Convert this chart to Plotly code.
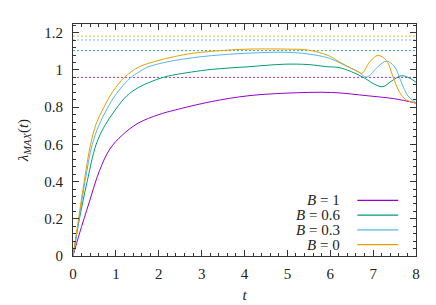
import plotly.graph_objects as go

# ---- data ----
t_b0 = [0, 0.13, 0.26, 0.41, 0.54, 0.72, 0.93, 1.2, 1.52, 1.9, 2.37, 2.8, 3.23, 3.7, 4.08, 4.6, 5.0, 5.48, 5.95, 6.18, 6.41, 6.65, 6.74, 6.92, 7.11, 7.31, 7.46, 7.62, 7.77, 8.0]
y_b0 = [0, 0.20, 0.40, 0.60, 0.71, 0.80, 0.885, 0.96, 1.014, 1.045, 1.072, 1.09, 1.10, 1.108, 1.112, 1.113, 1.112, 1.107, 1.078, 1.048, 1.018, 0.991, 0.982, 1.043, 1.078, 1.051, 0.965, 0.879, 0.839, 0.822]

t_b03 = [0, 0.14, 0.28, 0.45, 0.60, 0.78, 1.02, 1.35, 1.52, 1.74, 2.37, 3.23, 4.08, 4.94, 5.48, 5.95, 6.18, 6.41, 6.65, 6.85, 7.11, 7.31, 7.50, 7.66, 7.81, 8.0]
y_b03 = [0, 0.20, 0.40, 0.60, 0.70, 0.785, 0.875, 0.96, 0.986, 1.015, 1.051, 1.077, 1.09, 1.095, 1.086, 1.065, 1.043, 1.017, 0.991, 0.962, 1.017, 1.048, 1.017, 0.933, 0.861, 0.823]

t_b06 = [0, 0.15, 0.33, 0.54, 0.74, 1.0, 1.25, 1.52, 1.8, 2.1, 2.37, 3.23, 4.08, 4.94, 5.48, 5.95, 6.18, 6.49, 6.80, 7.04, 7.23, 7.42, 7.66, 7.85, 8.0]
y_b06 = [0, 0.20, 0.40, 0.60, 0.70, 0.79, 0.86, 0.905, 0.935, 0.96, 0.974, 1.003, 1.017, 1.031, 1.029, 1.017, 1.014, 0.991, 0.956, 0.922, 0.910, 0.939, 0.969, 0.956, 0.934]

t_b1 = [0, 0.147, 0.38, 0.62, 0.86, 1.15, 1.52, 2.0, 2.37, 3.23, 4.08, 4.94, 6.03, 6.88, 7.5, 8.0]
y_b1 = [0, 0.118, 0.29, 0.46, 0.575, 0.65, 0.714, 0.76, 0.784, 0.830, 0.861, 0.875, 0.879, 0.861, 0.845, 0.822]

asymptotes = {"B0": 1.182, "B03": 1.161, "B06": 1.104, "B1": 0.960}
legend_labels = ["<i>B</i> = 1", "<i>B</i> = 0.6", "<i>B</i> = 0.3", "<i>B</i> = 0"]

x_ticks = [0, 1, 2, 3, 4, 5, 6, 7, 8]
y_ticks = [0, 0.2, 0.4, 0.6, 0.8, 1.0, 1.2]

c_purple = "#9400d3"
c_green = "#009e73"
c_blue = "#56b4e9"
c_orange = "#e69f00"

FONT = "Liberation Serif"

fig = go.Figure()

# dotted asymptote lines
for key, col in [("B0", c_orange), ("B03", c_blue), ("B06", c_green), ("B1", c_purple)]:
    v = asymptotes[key]
    fig.add_trace(go.Scatter(x=[0, 8], y=[v, v], mode="lines",
                             line=dict(color=col, width=1, dash="2px,2px"),
                             opacity=0.8, showlegend=False, hoverinfo="skip"))

series = [(t_b1, y_b1, c_purple), (t_b06, y_b06, c_green), (t_b03, y_b03, c_blue), (t_b0, y_b0, c_orange)]
for tx, ty, col in series:
    fig.add_trace(go.Scatter(x=tx, y=ty, mode="lines",
                             line=dict(color=col, width=1, shape="spline", smoothing=1.0),
                             showlegend=False))

# gnuplot-style key (text right-aligned, sample to the right)
rows_y = [0.240, 0.176, 0.1125, 0.049]
for lab, ry, (_, _, col) in zip(legend_labels, rows_y, series):
    fig.add_annotation(x=0.784, y=ry, xref="paper", yref="paper", text=lab,
                       showarrow=False, xanchor="right", yanchor="middle",
                       font=dict(family=FONT, size=15, color="#222"))
    fig.add_shape(type="line", xref="paper", yref="paper", x0=0.829, x1=0.948,
                  y0=ry, y1=ry, line=dict(color=col, width=1.2))

axis_common = dict(showgrid=False, zeroline=False, showline=True, linecolor="#333",
                   linewidth=1, mirror="allticks", ticks="inside", ticklen=6,
                   tickcolor="#333", tickfont=dict(family=FONT, size=15, color="#222"))

fig.update_xaxes(range=[0, 8], tickvals=x_ticks, ticklabelstandoff=4,
                 minor=dict(dtick=0.2, ticks="inside", ticklen=3, tickcolor="#333"),
                 title=dict(text="<i>t</i>", font=dict(family=FONT, size=15, color="#222"), standoff=8),
                 **axis_common)
fig.update_yaxes(range=[0, 1.247], tickvals=y_ticks, ticklabelstandoff=6,
                 minor=dict(dtick=0.04, ticks="inside", ticklen=3, tickcolor="#333"),
                 title=dict(text="<i>λ</i><sub><i>MAX</i></sub>(<i>t</i>)",
                            font=dict(family=FONT, size=15, color="#222"), standoff=12),
                 **axis_common)

fig.update_layout(width=436, height=305, margin=dict(l=65, r=28, t=16, b=49),
                  plot_bgcolor="white", paper_bgcolor="white", showlegend=False)

fig.write_html("out.html")
